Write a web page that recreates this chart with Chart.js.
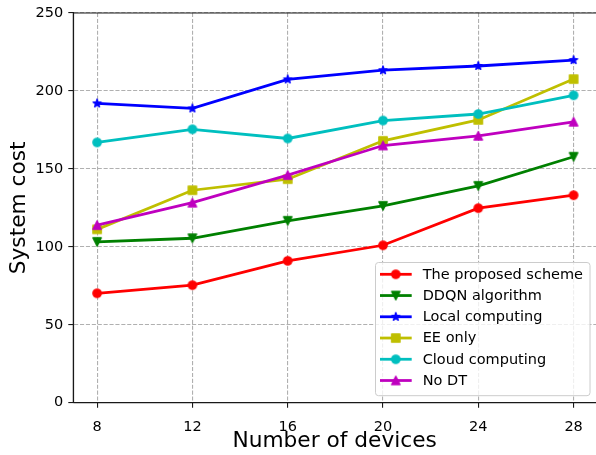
<!DOCTYPE html>
<html>
<head>
<meta charset="utf-8">
<script src="https://cdn.jsdelivr.net/npm/chart.js@4.4.0/dist/chart.umd.min.js"></script>
<style>
  html, body { margin: 0; padding: 0; background: #ffffff; overflow: hidden; }
  #wrap { width: 596px; height: 455px; position: relative; }
</style>
</head>
<body>
<div id="wrap"><canvas id="c" width="596" height="455"></canvas></div>
<script>
// Number of devices on the x axis
const devices = [8, 12, 16, 20, 24, 28];

// System cost of each scheme
const proposedScheme = [70.2, 75.4, 91.0, 101.0, 124.8, 133.1];
const ddqnAlgorithm  = [103.2, 105.5, 116.7, 126.3, 139.1, 157.8];
const localComputing = [192.0, 188.8, 207.4, 213.3, 216.0, 219.8];
const eeOnly         = [111.2, 136.3, 143.4, 168.0, 181.4, 207.6];
const cloudComputing = [167.0, 175.4, 169.5, 181.0, 185.2, 197.2];
const noDT           = [113.9, 128.3, 146.0, 165.0, 171.2, 180.2];

const seriesNames = ['The proposed scheme', 'DDQN algorithm', 'Local computing', 'EE only', 'Cloud computing', 'No DT'];
const yTicks = [0, 50, 100, 150, 200, 250];

const FONT = "'DejaVu Sans', 'Liberation Sans', sans-serif";
const MS = 8.34;   // marker size in px
const MEW = 1.39;  // marker edge width

// Marker sprites: filled shapes with an edge of the same colour
function marker(kind, color) {
  const s = 16, c = s / 2, h = MS / 2;
  const cv = document.createElement('canvas');
  cv.width = s; cv.height = s;
  const g = cv.getContext('2d');
  g.fillStyle = color; g.strokeStyle = color; g.lineWidth = MEW; g.lineJoin = 'round';
  g.beginPath();
  if (kind === 'circle') {
    g.arc(c, c, h, 0, Math.PI * 2);
  } else if (kind === 'square') {
    g.rect(c - h, c - h, MS, MS);
  } else if (kind === 'tri-up') {
    g.moveTo(c, c - h); g.lineTo(c + h, c + h); g.lineTo(c - h, c + h); g.closePath();
  } else if (kind === 'tri-down') {
    g.moveTo(c, c + h); g.lineTo(c + h, c - h); g.lineTo(c - h, c - h); g.closePath();
  } else if (kind === 'star') {
    const inner = h * 0.381966;
    for (let i = 0; i < 10; i++) {
      const r = i % 2 === 0 ? h : inner;
      const a = -Math.PI / 2 + i * Math.PI / 5;
      const x = c + r * Math.cos(a), y = c + r * Math.sin(a);
      if (i === 0) g.moveTo(x, y); else g.lineTo(x, y);
    }
    g.closePath();
  }
  g.fill(); g.stroke();
  return cv;
}

const seriesValues = [proposedScheme, ddqnAlgorithm, localComputing, eeOnly, cloudComputing, noDT];
const seriesColors = ['#ff0000', '#008000', '#0000ff', '#bfbf00', '#00bfbf', '#bf00bf'];
const seriesMarkers = ['circle', 'tri-down', 'star', 'square', 'circle', 'tri-up'];

const datasets = seriesValues.map((vals, i) => ({
  label: seriesNames[i],
  data: vals.map((v, k) => ({ x: devices[k], y: v })),
  borderColor: seriesColors[i],
  backgroundColor: seriesColors[i],
  borderWidth: 2.78,
  borderJoinStyle: 'miter',
  pointStyle: marker(seriesMarkers[i], seriesColors[i]),
  pointRadius: 5,
  pointHoverRadius: 5,
  tension: 0,
  fill: false,
  order: seriesValues.length - i
}));

// Axes frame (left, bottom, top) and the in-plot key
const frameAndKey = {
  id: 'frameAndKey',
  afterDatasetsDraw(chart) {
    const { ctx, chartArea: a } = chart;
    ctx.save();
    ctx.strokeStyle = '#1a1a1a';
    ctx.lineWidth = 1.1;
    ctx.beginPath();
    ctx.moveTo(a.left, a.top); ctx.lineTo(chart.width + 2, a.top);
    ctx.moveTo(a.left, a.top); ctx.lineTo(a.left, a.bottom);
    ctx.moveTo(a.left, a.bottom); ctx.lineTo(chart.width + 2, a.bottom);
    ctx.stroke();

    // key box
    const bx = 375.5, by = 262.5, bw = 214.5, bh = 133.2;
    ctx.beginPath();
    ctx.roundRect(bx, by, bw, bh, 3);
    ctx.fillStyle = 'rgba(255,255,255,0.8)';
    ctx.fill();
    ctx.strokeStyle = '#cccccc';
    ctx.lineWidth = 1;
    ctx.stroke();

    ctx.font = '14.5px ' + FONT;
    ctx.textBaseline = 'middle';
    ctx.textAlign = 'left';
    chart.data.datasets.forEach((ds, i) => {
      const y = 274.3 + i * 21.24;
      ctx.strokeStyle = ds.borderColor;
      ctx.lineWidth = ds.borderWidth;
      ctx.beginPath();
      ctx.moveTo(380, y); ctx.lineTo(411.7, y);
      ctx.stroke();
      const m = ds.pointStyle;
      ctx.drawImage(m, 395.8 - m.width / 2, y - m.height / 2);
      ctx.fillStyle = '#000000';
      ctx.fillText(ds.label, 422.7, y + 0.5);
    });
    ctx.restore();
  }
};

new Chart(document.getElementById('c'), {
  type: 'line',
  data: { datasets },
  options: {
    responsive: false,
    devicePixelRatio: 1,
    animation: false,
    events: [],
    layout: { autoPadding: false, padding: { top: 13, right: 0, bottom: 0, left: 0 } },
    plugins: { legend: { display: false }, tooltip: { enabled: false } },
    scales: {
      x: {
        type: 'linear',
        min: 7,
        max: 28.94,
        afterBuildTicks: (s) => { s.ticks = devices.map(v => ({ value: v })); },
        afterFit: (s) => { s.height = 52.3; s.paddingLeft = 0; s.paddingRight = 0; },
        ticks: { color: '#000', font: { family: FONT, size: 14.5 }, padding: 11, maxRotation: 0 },
        grid: { color: '#b0b0b0', lineWidth: 1.1, drawTicks: true, tickLength: 5, tickColor: '#1a1a1a', tickWidth: 1.1, tickBorderDash: [] },
        border: { display: true, color: '#1a1a1a', width: 1.1, dash: [4.1, 1.8] },
        title: { display: true, text: 'Number of devices', color: '#000', font: { family: FONT, size: 21.7 }, padding: { top: 0, bottom: 1 } }
      },
      y: {
        type: 'linear',
        min: 0,
        max: 250,
        afterBuildTicks: (s) => { s.ticks = yTicks.map(v => ({ value: v })); },
        afterFit: (s) => { s.width = 73.3; s.paddingTop = 0; s.paddingBottom = 0; },
        ticks: { color: '#000', font: { family: FONT, size: 14.5 }, padding: 5 },
        grid: { color: '#b0b0b0', lineWidth: 1.1, drawTicks: true, tickLength: 5, tickColor: '#1a1a1a', tickWidth: 1.1, tickBorderDash: [] },
        border: { display: true, color: '#1a1a1a', width: 1.1, dash: [4.1, 1.8] },
        title: { display: true, text: 'System cost', color: '#000', font: { family: FONT, size: 21.7 }, padding: { top: 6, bottom: 0 } }
      }
    }
  },
  plugins: [frameAndKey]
});
</script>
</body>
</html>
